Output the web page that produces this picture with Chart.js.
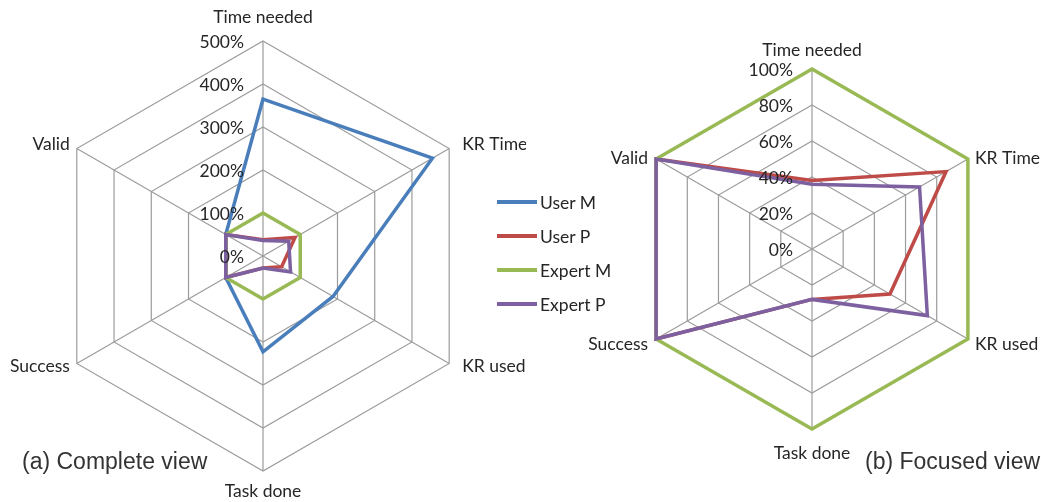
<!DOCTYPE html>
<html>
<head>
<meta charset="utf-8">
<script src="https://cdn.jsdelivr.net/npm/chart.js@4.4.1/dist/chart.umd.min.js"></script>
<style>
  body { margin: 0; background: #fff; width: 1041px; height: 502px; overflow: hidden; position: relative; }
  .box { position: absolute; top: 0; height: 502px; }
  #leftBox { left: 0; width: 526px; }
  #rightBox { left: 560px; width: 481px; }
  .caption { position: absolute; font-family: "Liberation Sans", Arial, sans-serif; font-size: 23px; color: #333; white-space: nowrap; }
  #legend { position: absolute; left: 497px; top: 185px; font-family: Lato, sans-serif; font-size: 17.5px; color: #262626; }
  .item { height: 34px; display: flex; align-items: center; }
  .swatch { width: 40px; height: 3.5px; margin-right: 3px; }
</style>
</head>
<body>
<div class="box" id="leftBox"><canvas id="complete"></canvas></div>
<div class="box" id="rightBox"><canvas id="focused"></canvas></div>
<div id="legend"></div>
<div class="caption" style="left:22px; top:448px;">(a) Complete view</div>
<div class="caption" style="left:865px; top:448px;">(b) Focused view</div>
<script>
const axes = ["Time needed", "KR Time", "KR used", "Task done", "Success", "Valid"];
const seriesNames = ["User M", "User P", "Expert M", "Expert P"];
const userM = [365, 455, 188, 223, 100, 100];
const userP = [38, 86, 50, 28, 100, 100];
const expertM = [100, 100, 100, 100, 100, 100];
const expertP = [36, 69, 74, 28, 100, 100];
const completeTicks = [0, 100, 200, 300, 400, 500];
const focusedTicks = [0, 20, 40, 60, 80, 100];
const colors = ["#4A7EBB", "#BE4B48", "#98B954", "#7D60A0"];

const labelFont = "17.5px Lato";
const textColor = "#262626";

// tick labels sit left of the vertical axis; category names around the rim
const labelPlugin = {
  id: "rimLabels",
  afterDraw(chart, args, o) {
    const s = chart.scales.r;
    const ctx = chart.ctx;
    ctx.save();
    ctx.fillStyle = textColor;
    ctx.font = labelFont;
    ctx.textAlign = "right";
    ctx.textBaseline = "middle";
    o.ticks.forEach(v => {
      const d = s.getDistanceFromCenterForValue(v);
      ctx.fillText(v + "%", s.xCenter - 19, s.yCenter - d + 1);
    });
    axes.forEach((name, i) => {
      const p = s.getPointPosition(i, s.drawingArea);
      const dx = p.x - s.xCenter;
      const dy = p.y - s.yCenter;
      if (Math.abs(dx) < 1) {
        ctx.textAlign = "center";
        ctx.fillText(name, p.x, dy < 0 ? p.y - o.top : p.y + o.bottom);
      } else if (dx > 0) {
        ctx.textAlign = "left";
        ctx.fillText(name, p.x + o.sideR, p.y + (dy < 0 ? o.upY : o.lowY));
      } else {
        ctx.textAlign = "right";
        ctx.fillText(name, p.x - o.sideL, p.y + (dy < 0 ? o.upY : o.lowY));
      }
    });
    ctx.restore();
  }
};

function makeDataset(i, values, order) {
  return {
    label: seriesNames[i],
    data: values,
    borderColor: colors[i],
    borderWidth: 3.5,
    fill: false,
    pointRadius: 0,
    tension: 0,
    order: order,
  };
}

function radarOptions(max, ticks, pad, rim) {
  return {
    responsive: true,
    maintainAspectRatio: false,
    animation: false,
    layout: { padding: pad },
    plugins: { legend: { display: false }, tooltip: { enabled: false }, rimLabels: rim },
    scales: {
      r: {
        min: 0,
        max: max,
        afterBuildTicks: scale => { scale.ticks = ticks.map(v => ({ value: v })); },
        ticks: { display: false },
        pointLabels: { display: false },
        grid: { color: "#9c9c9c", lineWidth: 1.2 },
        angleLines: { color: "#9c9c9c", lineWidth: 1.2 },
      },
    },
  };
}

new Chart(document.getElementById("complete"), {
  type: "radar",
  data: {
    labels: axes,
    datasets: [
      makeDataset(0, userM, 4),
      makeDataset(1, userP, 3),
      makeDataset(2, expertM, 2),
      makeDataset(3, expertP, 1),
    ],
  },
  options: radarOptions(500, completeTicks,
    { left: 48, right: 48, top: 41, bottom: 31 },
    { ticks: completeTicks, top: 24, bottom: 20, sideR: 13, sideL: 7, upY: -4, lowY: 3 }),
  plugins: [labelPlugin],
});

new Chart(document.getElementById("focused"), {
  type: "radar",
  data: {
    labels: axes,
    datasets: [
      makeDataset(1, userP, 3),
      makeDataset(2, expertM, 2),
      makeDataset(3, expertP, 1),
    ],
  },
  options: radarOptions(100, focusedTicks,
    { left: 72, right: 49, top: 69, bottom: 73 },
    { ticks: focusedTicks, top: 19, bottom: 24, sideR: 7, sideL: 8, upY: -1, lowY: 5 }),
  plugins: [labelPlugin],
});

const legend = document.getElementById("legend");
seriesNames.forEach((name, i) => {
  const row = document.createElement("div");
  row.className = "item";
  row.innerHTML = '<div class="swatch" style="background:' + colors[i] + '"></div><span>' + name + "</span>";
  legend.appendChild(row);
});
</script>
</body>
</html>
